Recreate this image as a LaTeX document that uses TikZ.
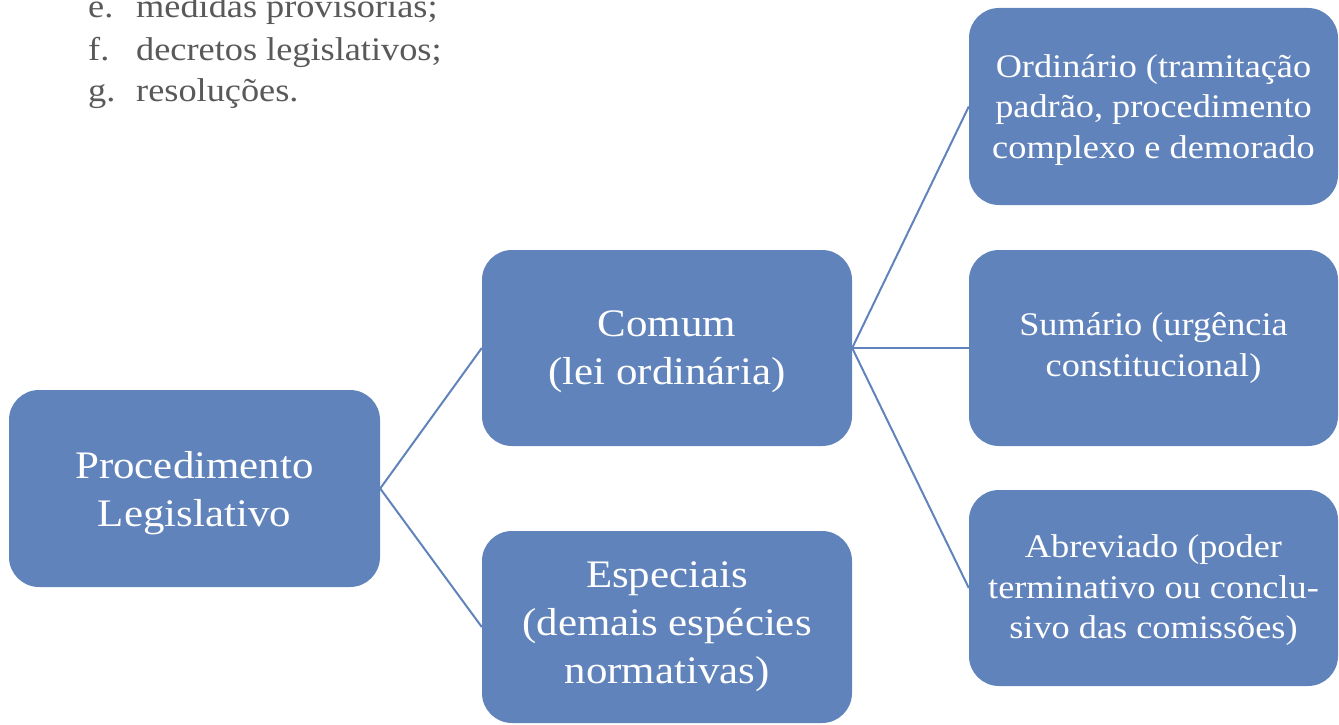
\documentclass[tikz,border=0pt]{standalone}
\usepackage{fontspec}
\setmainfont[FakeStretch=1.1]{Liberation Serif}
\definecolor{boxblue}{RGB}{97,131,188}
\definecolor{txtgray}{RGB}{89,89,89}
\tikzset{
  box/.style={rounded corners=30pt, fill=boxblue, inner sep=0pt},
  boxtxt/.style={text=white, align=center, inner sep=0pt},
  bigtxt/.style={boxtxt, font=\fontsize{39}{48}\selectfont},
  smalltxt/.style={boxtxt, font=\fontsize{33}{40.5}\selectfont},
  conn/.style={draw=boxblue, line width=2pt},
  listtxt/.style={text=txtgray, anchor=base west, inner sep=0pt, font=\fontsize{33}{40}\selectfont}
}
\begin{document}
\begin{tikzpicture}[x=1pt, y=-1pt]
\useasboundingbox (0,0) rectangle (1339,725);
\clip (0,0) rectangle (1339,725);
\fill[white] (0,0) rectangle (1339,725);

\node[listtxt] (le) at (88,18) {e.};
\node[listtxt] (te) at (136,18) {medidas provisórias;};
\node[listtxt] (lf) at (88,60) {f.};
\node[listtxt] (tf) at (136,60) {decretos legislativos;};
\node[listtxt] (lg) at (88,102) {g.};
\node[listtxt] (tg) at (136,102) {resoluções.};

\node[box, minimum width=371pt, minimum height=197pt] (proc) at (194.5,488.5) {};
\node[box, minimum width=370pt, minimum height=196pt] (comum) at (667,348) {};
\node[box, minimum width=370pt, minimum height=192pt] (esp) at (667,627) {};
\node[box, minimum width=369pt, minimum height=197pt] (ord) at (1153.5,106.5) {};
\node[box, minimum width=369pt, minimum height=196pt] (sum) at (1153.5,348) {};
\node[box, minimum width=369pt, minimum height=196pt] (abr) at (1153.5,588) {};

\node[bigtxt, yshift=-5pt] (procT) at (proc.center) {Procedimento\\Legislativo};
\node[bigtxt, yshift=-4pt] (comumT) at (comum.center) {Comum\\(lei ordinária)};
\node[bigtxt] (espT) at (esp.center) {Especiais\\(demais espécies\\normativas)};
\node[smalltxt, yshift=-3.5pt] (ordT) at (ord.center) {Ordinário (tramitação\\padrão, procedimento\\complexo e demorado};
\node[smalltxt] (sumT) at (sum.center) {Sumário (urgência\\constitucional)};
\node[smalltxt, yshift=-2.5pt] (abrT) at (abr.center) {Abreviado (poder\\terminativo ou conclu-\\sivo das comissões)};

\draw[conn] (proc.east) -- (comum.west);
\draw[conn] (proc.east) -- (esp.west);
\draw[conn] (comum.east) -- (ord.west);
\draw[conn] (comum.east) -- (sum.west);
\draw[conn] (comum.east) -- (abr.west);
\end{tikzpicture}
\end{document}
